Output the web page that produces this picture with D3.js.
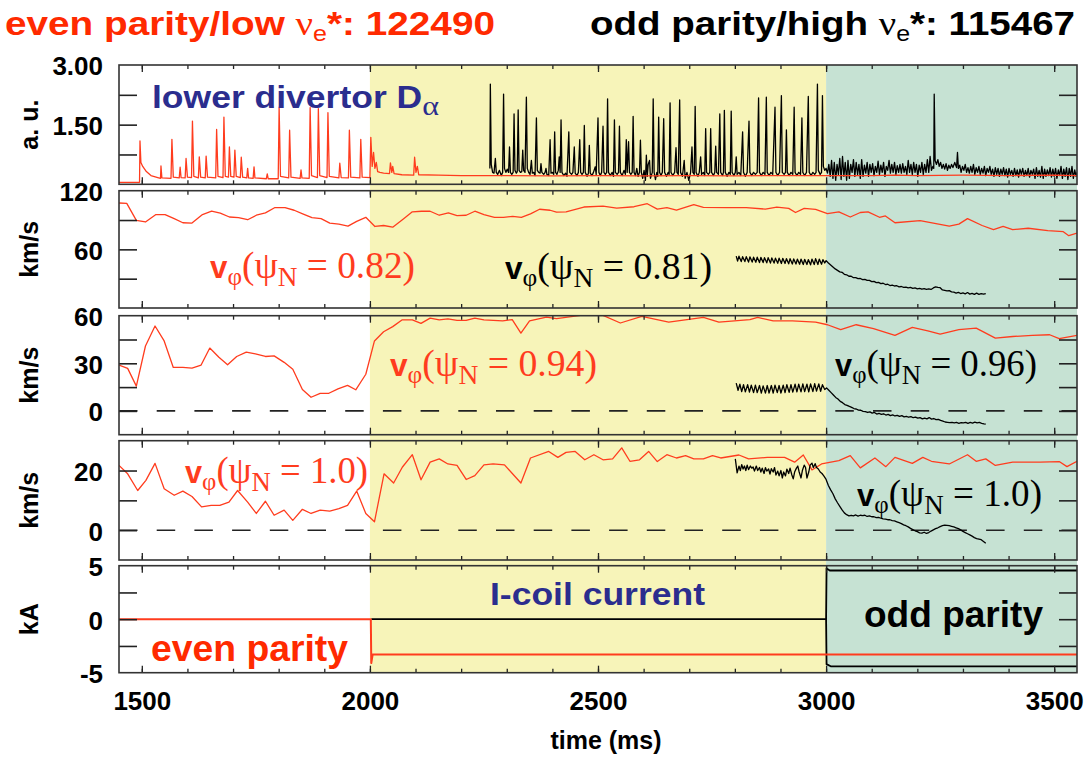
<!DOCTYPE html>
<html><head><meta charset="utf-8">
<script src="https://cdn.jsdelivr.net/npm/d3@7"></script>
<style>body{margin:0;background:#fff}svg{display:block}</style>
</head><body>
<svg id="c" width="1086" height="761"></svg>
<script>
// ---------------- data ----------------
const timeDomain = [1450, 3550];
const xTickMajor = [1500, 2000, 2500, 3000, 3500];
const xTickMinor = [1500,1600,1700,1800,1900,2000,2100,2200,2300,2400,2500,2600,2700,2800,2900,3000,3100,3200,3300,3400,3500];
const evenStart = 2000, oddStart = 3000;

// panel 1: lower divertor D-alpha (a.u.)
const dalphaDomain = [0, 3];
const dalphaTicks = [0.75, 1.5, 2.25];
const dalphaLabels = [[3, "3.00"], [1.5, "1.50"]];
const dalphaEven = [[1450,0.05],[1495,0.05],[1496,1.09],[1498,0.55],[1502,0.45],[1510,0.32],[1520,0.22],[1535,0.17],
[1541,0.15],[1542,0.46],[1544,0.16],[1564,0.15],[1566,1.13],[1569,0.18],[1582,0.16],[1584,0.43],[1586,0.17],
[1595,0.16],[1597,0.65],[1600,0.18],[1609,0.17],[1611,1.59],[1614,0.2],[1624,0.16],[1626,0.69],[1629,0.18],
[1639,0.16],[1641,0.71],[1644,0.18],[1662,0.16],[1664,1.38],[1667,0.2],[1678,0.17],[1680,1.69],[1683,0.2],
[1690,0.18],[1692,0.94],[1695,0.2],[1702,0.18],[1704,0.86],[1707,0.2],[1716,0.17],[1718,0.68],[1721,0.18],
[1730,0.16],[1732,0.4],[1734,0.16],[1744,0.15],[1746,0.44],[1748,0.16],[1773,0.14],[1775,0.26],[1777,0.14],
[1799,0.14],[1801,1.94],[1804,0.2],[1822,0.16],[1824,1.36],[1827,0.18],[1847,0.15],[1849,0.36],[1851,0.16],
[1867,0.15],[1869,1.93],[1872,0.22],[1885,0.17],[1887,1.9],[1890,0.22],[1906,0.17],[1908,1.8],[1911,0.2],
[1932,0.16],[1934,0.53],[1937,0.17],[1953,0.16],[1955,1.36],[1958,0.18],[1978,0.16],[1980,1.13],[1983,0.18],
[2000,0.17],[2002,1.18],[2005,0.45],[2008,0.8],[2011,0.4],[2014,0.55],[2017,0.32],[2022,0.3],[2030,0.28],
[2043,0.27],[2045,0.54],[2048,0.3],[2050,0.45],[2053,0.27],[2070,0.24],[2096,0.23],[2098,0.68],[2101,0.3],
[2104,0.45],[2107,0.24],[2150,0.23],[2200,0.22],[2300,0.22],[2400,0.21],[2500,0.22],[2600,0.21],[2700,0.22],
[2800,0.21],[2900,0.22],[3000,0.22],[3100,0.22],[3150,0.23],[3200,0.22],[3300,0.23],[3400,0.22],[3500,0.23],[3550,0.22]];
const dalphaOdd = [[2263,0.4],[2264,2.52],[2266,0.5],[2269,0.3],[2272,0.28],[2275,0.65],[2277,0.3],[2280,0.25],[2284,0.35],[2288,0.22],
[2291,0.3],[2293,2.27],[2295,0.4],[2298,0.3],[2301,0.38],[2304,0.3],[2306,0.94],[2308,0.3],[2311,0.25],
[2314,0.3],[2316,1.77],[2318,0.35],[2321,0.28],[2323,0.32],[2325,1.87],[2327,0.35],[2330,0.3],
[2333,0.32],[2335,0.86],[2337,0.35],[2340,0.3],[2343,2.19],[2345,0.4],[2348,0.3],[2351,0.25],
[2354,0.6],[2356,0.28],[2359,0.3],[2362,0.22],[2365,1.67],[2367,0.35],[2370,0.3],[2373,0.28],
[2375,0.52],[2377,0.3],[2381,0.25],[2384,0.3],[2386,0.4],[2388,0.25],[2392,0.22],
[2395,1.12],[2397,0.28],[2400,0.3],[2403,0.25],[2405,1.32],[2407,0.3],[2410,0.25],[2413,0.35],[2415,0.69],[2417,0.3],[2419,1.62],[2421,0.3],[2425,0.22],[2429,0.28],[2432,0.2],
[2436,1.32],[2438,0.3],[2442,0.25],[2445,0.3],[2448,0.94],[2450,0.28],[2454,0.22],[2457,0.3],[2460,1.12],[2462,0.3],[2465,0.25],[2468,0.3],[2470,1.48],[2472,0.3],[2476,0.2],[2479,0.28],[2481,0.98],[2483,0.28],[2487,0.22],[2490,0.3],[2494,0.44],[2496,0.25],[2500,1.67],[2502,0.3],[2505,0.22],[2508,0.3],[2511,1.46],[2513,0.3],[2516,0.25],[2519,0.3],[2521,2.15],[2523,0.3],[2527,0.22],[2531,0.3],[2534,0.2],[2536,1.62],[2538,0.3],[2542,0.25],[2545,0.3],[2547,1.46],[2549,0.3],[2553,0.22],[2557,0.35],[2560,0.25],[2562,1.12],[2564,0.3],[2567,1.07],[2569,0.3],[2572,0.25],[2575,0.3],[2577,1.71],[2579,0.3],[2582,0.22],[2585,0.4],[2588,0.2],[2591,0.3],[2593,1.11],[2595,0.3],[2598,0.15],[2601,0.35],[2604,0.1],[2606,0.73],[2608,0.2],[2610,0.5],[2613,0.6],[2615,0.15],[2619,0.3],[2621,2.15],[2623,0.3],[2626,0.12],[2629,0.3],[2631,0.2],[2633,1.69],[2635,0.3],[2638,0.22],[2641,0.3],[2644,1.65],[2646,0.3],[2650,0.2],[2654,0.3],[2656,0.25],[2658,2.05],[2660,0.3],[2664,0.22],[2668,0.3],[2671,0.92],[2673,0.3],[2676,0.25],[2679,2.12],[2681,0.3],[2685,0.2],[2689,0.6],[2691,0.15],[2695,0.3],[2699,0.1],[2703,0.3],[2706,0.94],[2708,0.3],[2711,0.25],[2713,1.96],[2715,0.3],[2719,0.2],[2722,0.3],[2725,0.69],[2727,0.25],[2731,0.3],[2734,0.22],[2736,1.4],[2738,0.3],[2742,0.25],[2745,0.3],[2747,1.4],[2749,0.3],[2753,0.22],[2756,0.3],[2758,0.96],[2760,0.3],[2764,0.25],[2767,1.77],[2769,0.3],[2773,0.22],[2775,0.3],[2777,1.86],[2779,0.3],[2783,0.2],[2787,0.3],[2790,0.25],[2792,1.84],[2794,0.3],[2798,0.22],[2801,0.3],[2803,0.69],[2805,0.25],[2809,0.3],[2813,0.22],[2817,1.32],[2819,0.3],[2823,0.2],[2827,0.3],[2831,1.59],[2833,0.3],[2837,0.22],[2841,0.3],[2845,0.25],[2849,0.3],[2852,2.17],[2854,0.3],[2858,0.22],[2862,0.3],[2866,0.25],[2869,2.19],[2871,0.3],[2875,0.22],[2879,0.3],[2883,0.25],[2888,1.94],[2890,0.3],[2894,0.22],[2898,0.3],[2902,2.23],[2904,0.3],[2908,0.25],[2911,0.3],[2913,1.37],[2915,0.3],[2919,0.22],[2923,0.3],[2927,0.25],[2930,1.94],[2932,0.3],[2936,0.22],[2940,0.3],[2944,0.25],[2947,1.67],[2949,0.3],[2953,0.22],[2957,0.3],[2961,2.21],[2963,0.3],[2967,0.22],[2971,0.3],[2975,0.25],[2978,0.3],[2981,2.52],[2983,0.35],[2987,0.25],[2990,0.3],[2992,2.23],[2994,0.45],[2997,0.35],
[3000,0.4],[3003,0.28],[3006,0.5],[3009,0.2],[3012,0.6],[3015,0.15],[3018,0.55],[3021,0.1],[3024,0.5],[3027,0.25],[3030,0.65],[3033,0.12],[3036,0.7],[3039,0.2],[3042,0.55],[3045,0.1],[3048,0.6],[3051,0.15],[3054,0.5],[3057,0.3],[3060,0.62],[3063,0.2],[3066,0.55],[3069,0.25],[3072,0.5],[3075,0.15],[3078,0.62],[3081,0.2],[3084,0.48],[3087,0.28],[3090,0.55],[3093,0.2],[3096,0.5],[3099,0.3],[3102,0.52],[3105,0.22],[3108,0.45],[3111,0.3],[3114,0.58],[3117,0.25],[3120,0.48],[3123,0.3],[3126,0.55],[3129,0.2],[3132,0.45],[3135,0.35],[3138,0.6],[3141,0.28],[3144,0.5],[3147,0.3],[3150,0.55],[3153,0.25],[3156,0.47],[3159,0.3],[3162,0.5],[3165,0.28],[3168,0.52],[3171,0.3],[3174,0.45],[3177,0.25],[3180,0.6],[3183,0.3],[3186,0.5],[3189,0.25],[3192,0.55],[3195,0.3],[3198,0.5],[3201,0.2],[3204,0.48],[3207,0.3],[3210,0.55],[3213,0.25],[3216,0.5],[3219,0.3],[3222,0.62],[3225,0.3],[3228,0.7],[3231,0.35],[3234,0.45],[3236,0.4],[3237,2.27],[3239,0.6],[3242,0.5],[3245,0.62],[3248,0.45],[3251,0.55],[3254,0.4],[3257,0.5],[3260,0.38],[3263,0.52],[3266,0.35],[3269,0.48],[3272,0.4],[3275,0.5],[3278,0.42],[3282,0.55],[3286,0.42],[3288,0.8],[3290,0.4],[3293,0.48],[3296,0.3],[3299,0.45],[3302,0.35],[3305,0.5],[3308,0.3],[3311,0.42],[3314,0.28],[3317,0.45],[3320,0.3],[3323,0.5],[3326,0.25],[3329,0.42],[3332,0.3],[3335,0.45],[3338,0.25],[3341,0.4],[3344,0.28],[3347,0.45],[3350,0.22],[3353,0.4],[3356,0.3],[3359,0.45],[3362,0.25],[3365,0.38],[3368,0.2],[3371,0.42],[3374,0.25],[3377,0.4],[3380,0.2],[3383,0.38],[3386,0.25],[3389,0.42],[3392,0.22],[3395,0.38],[3398,0.18],[3401,0.4],[3404,0.25],[3407,0.35],[3410,0.2],[3413,0.4],[3416,0.22],[3419,0.36],[3422,0.18],[3425,0.38],[3428,0.25],[3431,0.4],[3434,0.2],[3437,0.35],[3440,0.22],[3443,0.4],[3446,0.18],[3449,0.35],[3452,0.25],[3455,0.38],[3458,0.15],[3461,0.42],[3464,0.2],[3467,0.35],[3470,0.18],[3473,0.45],[3476,0.15],[3479,0.38],[3482,0.2],[3485,0.36],[3488,0.22],[3491,0.42],[3494,0.18],[3497,0.38],[3500,0.2],[3503,0.4],[3506,0.15],[3509,0.36],[3512,0.22],[3515,0.45],[3518,0.15],[3521,0.38],[3524,0.2],[3527,0.42],[3530,0.12],[3533,0.4],[3536,0.2],[3539,0.45],[3542,0.15],[3545,0.36],[3548,0.2],[3550,0.3]];

// panel 2: v_phi near psi_N 0.82 / 0.81 (km/s)
const v2Domain = [0, 120];
const v2Ticks = [30, 60, 90];
const v2Labels = [[120, "120"], [60, "60"]];
const vphiEven082 = [[1450,107.4],[1467,107],[1488,89.7],[1508,88],[1531,95.6],[1551,95.6],[1571,91.4],[1590,87.2],[1610,86.9],[1633,95.6],[1653,99],[1672,97],[1692,93.1],[1712,92.4],[1732,90.3],[1751,94.9],[1771,97.3],[1791,102.6],[1814,102.6],[1834,100],[1854,96],[1873,92.4],[1893,91.4],[1912,86.9],[1932,85.8],[1952,83.7],[1971,88.6],[1991,92.8],[2011,83.4],[2030,84.4],[2050,82.7],[2074,91.4],[2093,98.4],[2113,99],[2132,99],[2152,94.9],[2172,97.3],[2191,94.5],[2211,94.9],[2230,99],[2250,95.6],[2273,92.8],[2293,92.8],[2313,93.8],[2332,92.8],[2352,96.3],[2372,101],[2395,100],[2409,98],[2430,98.4],[2469,103.3],[2511,104.3],[2541,102.2],[2579,103.6],[2608,106.7],[2630,101.2],[2651,102.6],[2672,100.1],[2710,105.7],[2731,102.9],[2782,102.6],[2825,102.6],[2867,101.2],[2892,103.3],[2918,101.9],[2933,97.7],[2952,101.9],[2977,100.8],[3003,96.6],[3028,98.4],[3053,93.1],[3075,97.7],[3092,98.4],[3117,92.8],[3130,94.2],[3151,87.2],[3206,89.3],[3270,83.7],[3291,85.8],[3310,91.4],[3342,84.4],[3367,80.2],[3388,83.4],[3409,80.2],[3443,81.6],[3486,79.2],[3520,78.1],[3532,74],[3550,76.7]];
const vphiOdd081 = [[2803,53],[2806,48],[2809,53],[2814,47.5],[2817,52.5],[2822,47.5],[2825,52.5],[2830,47],[2833,52.3],[2838,47],[2841,52],[2846,46.8],[2849,52],[2854,46.5],[2857,51.8],[2862,46.5],[2865,51.5],[2870,46.2],[2873,51.5],[2878,46],[2881,51.2],[2886,46],[2889,51],[2894,45.8],[2897,51],[2902,45.5],[2905,50.8],[2910,45.5],[2913,50.5],[2918,45.2],[2921,50.5],[2926,45],[2929,50.2],[2934,45],[2937,50],[2942,44.8],[2945,50],[2950,44.5],[2953,49.8],[2958,44.5],[2961,49.5],[2966,44.2],[2969,50],[2974,44.5],[2977,50.5],[2982,44.5],[2985,50],[2990,44.8],[2993,49.5],[2997,46],[3000,48.5],[3005,46],[3010,44],[3015,42],[3020,40],[3025,38.5],[3030,37],[3035,36.5],[3040,34.5],[3045,34],[3050,32.5],[3055,32.5],[3060,31],[3065,31],[3070,30],[3075,30.2],[3080,29],[3085,29.2],[3090,28.2],[3095,28.3],[3100,27],[3105,27.3],[3110,26],[3115,26.2],[3120,25],[3125,25.3],[3130,24],[3135,24.3],[3140,23],[3145,23.4],[3150,22.5],[3155,22.8],[3160,21.6],[3165,22],[3170,21.2],[3175,21.4],[3180,20.5],[3185,21],[3190,20],[3195,20.5],[3200,19.5],[3205,20],[3210,19.2],[3215,19.8],[3220,19],[3225,19.5],[3230,19],[3235,20.5],[3240,21.6],[3245,21],[3250,20.8],[3255,18.5],[3260,18],[3265,17.5],[3270,17.8],[3275,16.5],[3280,16.2],[3285,15.3],[3290,16],[3295,14.8],[3300,15.5],[3305,14.5],[3310,15.8],[3315,14.2],[3320,15],[3325,14],[3330,15.2],[3335,14],[3340,14.8],[3345,14.2],[3350,14.8]];

// panel 3: v_phi near psi_N 0.94 / 0.96 (km/s)
const v3Domain = [-15, 60];
const v3Ticks = [0, 15, 30, 45];
const v3Labels = [[60, "60"], [30, "30"], [0, "0"]];
const vphiEven094 = [[1450,28.9],[1469,26.8],[1488,15.6],[1508,40.9],[1529,53.5],[1549,44.1],[1569,27.4],[1590,27.4],[1610,27],[1630,28.9],[1649,39.6],[1669,33.8],[1688,29.1],[1708,34.3],[1729,37],[1749,36],[1771,34.3],[1790,34.7],[1812,30.6],[1831,26.3],[1852,13.5],[1871,8.6],[1891,11.1],[1910,11.1],[1930,13.9],[1951,16.1],[1969,13.3],[1991,23.1],[2010,44.1],[2030,49.9],[2050,53.1],[2071,57.4],[2093,57.4],[2112,55.2],[2132,58.5],[2152,57.4],[2171,58],[2191,57],[2211,57],[2230,58.5],[2250,57.4],[2291,56.8],[2312,57.5],[2331,49],[2350,56.8],[2387,59.1],[2409,58.1],[2470,60.5],[2490,61],[2511,60.2],[2549,55.4],[2596,59.6],[2655,56],[2731,58.9],[2765,56],[2833,57.5],[2850,58.9],[2884,56.8],[2926,56.8],[2977,56],[3003,54.3],[3032,51.2],[3066,54.3],[3104,51.8],[3151,47.6],[3189,52.6],[3223,50.5],[3250,48.4],[3291,51.2],[3329,52.2],[3371,45.9],[3409,46.9],[3452,47.6],[3490,48],[3511,45.5],[3550,47.6]];
const vphiOdd096 = [[2803,17.5],[2807,13],[2811,16.8],[2815,12.2],[2819,16.5],[2823,12],[2828,16.5],[2832,11.8],[2836,16.2],[2841,11.5],[2845,16.3],[2849,11.5],[2854,16],[2858,11.2],[2862,15.8],[2867,11.2],[2871,16],[2875,11.3],[2880,16],[2884,11.2],[2888,16.2],[2893,11.5],[2897,16],[2901,11.3],[2906,16.2],[2910,11.5],[2914,16.5],[2919,11.7],[2923,16.6],[2927,11.8],[2932,16.8],[2936,12],[2940,16.8],[2945,12],[2949,17],[2953,12.2],[2958,16.8],[2962,12],[2966,17],[2971,12.2],[2975,17.2],[2979,12.5],[2984,17],[2988,12.4],[2992,16.5],[2997,13.5],[3001,14.5],[3006,13],[3011,11.5],[3016,10],[3021,8.5],[3026,7.5],[3031,6],[3036,5.2],[3041,4],[3046,3.5],[3051,2.8],[3056,2.2],[3061,1.5],[3066,1.2],[3071,0.5],[3076,0.4],[3081,-0.3],[3086,-0.5],[3091,-1],[3096,-0.6],[3101,-1.4],[3106,-1],[3111,-2],[3116,-1.5],[3121,-2.2],[3126,-1.8],[3131,-2.6],[3136,-2.2],[3141,-3],[3146,-2.5],[3151,-3.2],[3156,-2.8],[3161,-3.5],[3166,-3],[3171,-3.8],[3176,-3.4],[3181,-4],[3186,-3.6],[3191,-4.3],[3196,-3.9],[3201,-4.6],[3206,-4.2],[3211,-5],[3216,-4.5],[3221,-5],[3226,-4.2],[3231,-5.2],[3236,-4.8],[3241,-5.5],[3246,-5.3],[3251,-6],[3256,-6.5],[3261,-7],[3266,-7.2],[3271,-7.4],[3276,-7.2],[3281,-7.6],[3286,-7.3],[3291,-7.8],[3296,-7.4],[3301,-7.6],[3306,-7.2],[3311,-7.8],[3316,-7.3],[3321,-7.7],[3326,-7.1],[3331,-7.6],[3336,-7.3],[3341,-7.8],[3346,-8.2],[3350,-8.4]];

// panel 4: v_phi at psi_N 1.0 (km/s)
const v4Domain = [-10, 30];
const v4Ticks = [0, 10, 20];
const v4Labels = [[20, "20"], [0, "0"]];
const vphiEven10 = [[1450,21.7],[1469,18.9],[1491,13.3],[1509,16.7],[1529,22.4],[1549,13.9],[1571,11.7],[1590,13.1],[1610,11.3],[1631,7.8],[1652,8.3],[1671,8.3],[1691,9.4],[1710,13.3],[1732,9.4],[1751,5.6],[1771,9.7],[1790,5],[1812,6.7],[1831,3.3],[1852,7],[1871,5.6],[1891,6.7],[1912,6.4],[1932,7.2],[1951,8.3],[1971,13.1],[1991,5.6],[2010,2.8],[2031,18.9],[2052,15.8],[2071,21.1],[2093,25.3],[2112,16.9],[2132,22.8],[2152,23.9],[2171,22.2],[2191,21.7],[2211,17],[2230,18.3],[2250,21.9],[2270,22.2],[2295,21.9],[2331,15.8],[2352,24.2],[2392,26.4],[2412,24.4],[2430,26.1],[2450,26.4],[2471,23.6],[2491,25.3],[2511,23.6],[2532,23.9],[2552,27.6],[2570,23.1],[2591,23.6],[2611,26.4],[2630,23],[2651,25.3],[2672,24.2],[2692,25],[2710,23.9],[2731,23.9],[2751,25],[2769,24.2],[2809,25.2],[2830,23.9],[2871,24.4],[2909,24.4],[2931,22.8],[2950,25.2],[2969,20.2],[2990,22.2],[3028,23.3],[3053,25],[3075,20.9],[3107,24.2],[3131,21.3],[3151,24.4],[3189,22.4],[3212,24.4],[3231,23.1],[3270,22.2],[3310,25.3],[3329,23.1],[3350,23.9],[3371,21.7],[3409,22.8],[3469,22.8],[3511,23],[3528,21.3],[3550,23.1]];
const vphiOdd10 = [[2801,23.9],[2805,19.2],[2809,21.5],[2812,20],[2815,22],[2818,20.5],[2821,21.5],[2824,20],[2827,21.8],[2830,20.3],[2834,21.5],[2837,20.8],[2840,21.2],[2843,19.8],[2847,21.5],[2850,20],[2854,21],[2857,19.5],[2860,20.8],[2864,19],[2867,21],[2870,19.8],[2874,20.5],[2877,18.8],[2880,20.6],[2884,19.5],[2887,21],[2890,18.5],[2894,19.8],[2897,18.2],[2901,20],[2904,17.5],[2907,19.5],[2911,18.2],[2914,20.5],[2918,19],[2921,20.8],[2925,18.5],[2928,17.2],[2931,19.5],[2935,20.8],[2938,21.5],[2941,19.5],[2945,17.5],[2948,20],[2952,21.8],[2955,21],[2958,17.5],[2962,19.5],[2965,21.8],[2969,22.5],[2972,21],[2976,22.3],[2979,21],[2983,20.5],[2987,19.5],[2991,19],[2995,18.2],[3000,17],[3005,15],[3010,13.5],[3015,12.2],[3020,10.5],[3025,9.2],[3030,8],[3035,6.8],[3040,5.8],[3045,5.2],[3050,4.8],[3055,5],[3060,4.8],[3065,5.1],[3070,4.7],[3075,5],[3080,4.9],[3085,5],[3090,4.6],[3095,4.8],[3100,4.5],[3105,4.5],[3110,4.2],[3115,4.3],[3120,4],[3125,3.8],[3130,3.7],[3135,3.5],[3140,3.5],[3145,3.2],[3150,3.1],[3155,2.8],[3160,2.5],[3165,2.2],[3170,1.8],[3175,1.5],[3180,1.1],[3185,0.6],[3190,0.2],[3195,-0.2],[3200,-0.5],[3205,-0.9],[3210,-1],[3215,-0.7],[3220,-1.1],[3225,-0.8],[3230,-0.3],[3235,0.1],[3240,0.5],[3245,0.8],[3250,1.2],[3255,1.5],[3260,1.7],[3265,1.6],[3270,1.5],[3275,1.3],[3280,1.1],[3285,0.8],[3290,0.5],[3295,0.1],[3300,-0.4],[3305,-0.8],[3310,-1.2],[3315,-1.6],[3320,-2],[3325,-2.5],[3330,-2.8],[3335,-3],[3340,-3.2],[3345,-3.8],[3350,-4.4]];

// panel 5: I-coil current (kA)
const icDomain = [-5, 5];
const icTicks = [-2.5, 0, 2.5];
const icLabels = [[5, "5"], [0, "0"], [-5, "-5"]];
const icoilEven = [[1450,0],[2002,0],[2003,-4.1],[2006,-3.3],[2500,-3.3],[3000,-3.3],[3550,-3.3]];
const icoilOddUpper = [[2003,0],[3000,0],[3001,4.75],[3008,4.55],[3550,4.55]];
const icoilOddLower = [[3000,0],[3001,-4.2],[3010,-4.4],[3550,-4.4]];

// ---------------- drawing ----------------
const RED = "#ff3c1e", TRED = "#ff2a00", BLUE = "#2b2d8e", YEL = "#f7f4b9", GRN = "#c6e2d3";
const SANS = "Liberation Sans, Arial, sans-serif", SERIF = "Liberation Serif, Times New Roman, serif";
const svg = d3.select("#c");
const L = 119, R = 1077;
const panelBox = [[65, 184.3], [190.7, 308], [315.7, 434.7], [440.7, 560], [565.7, 672.7]];
const x = d3.scaleLinear().domain(timeDomain).range([L, R]);

const panels = [
  {domain: dalphaDomain, ticks: dalphaTicks, labels: dalphaLabels, title: "a. u."},
  {domain: v2Domain, ticks: v2Ticks, labels: v2Labels, title: "km/s"},
  {domain: v3Domain, ticks: v3Ticks, labels: v3Labels, title: "km/s", dashed: true},
  {domain: v4Domain, ticks: v4Ticks, labels: v4Labels, title: "km/s", dashed: true},
  {domain: icDomain, ticks: icTicks, labels: icLabels, title: "kA"}
];
panels.forEach((p, i) => {
  p.y0 = panelBox[i][0]; p.y1 = panelBox[i][1];
  p.y = d3.scaleLinear().domain(p.domain).range([p.y1, p.y0]);
});
const TOP = panels[0].y0, BOT = panels[4].y1;

// phase shading
svg.append("rect").attr("x", x(evenStart)).attr("y", TOP).attr("width", x(oddStart) - x(evenStart)).attr("height", BOT - TOP).attr("fill", YEL);
svg.append("rect").attr("x", x(oddStart)).attr("y", TOP).attr("width", R - x(oddStart)).attr("height", BOT - TOP).attr("fill", GRN);

const defs = svg.append("defs");
panels.forEach((p, i) => {
  defs.append("clipPath").attr("id", "clip" + i).append("rect").attr("x", L).attr("y", p.y0).attr("width", R - L).attr("height", p.y1 - p.y0);
  p.g = svg.append("g");
  p.data = p.g.append("g").attr("clip-path", `url(#clip${i})`);
  if (p.dashed) {
    p.data.append("line").attr("x1", L).attr("x2", R).attr("y1", p.y(0)).attr("y2", p.y(0))
      .attr("stroke", "#222").attr("stroke-width", 1.6).attr("stroke-dasharray", "18.5,19.2");
  }
});

function drawLine(p, data, color, w) {
  const line = d3.line().x(d => x(d[0])).y(d => p.y(d[1]));
  p.data.append("path").datum(data).attr("d", line).attr("fill", "none").attr("stroke", color).attr("stroke-width", w).attr("stroke-linejoin", "round");
}
drawLine(panels[0], dalphaOdd, "#000", 1.3);
drawLine(panels[0], dalphaEven, RED, 1.3);
drawLine(panels[1], vphiEven082, RED, 1.3);
drawLine(panels[1], vphiOdd081, "#000", 1.3);
drawLine(panels[2], vphiEven094, RED, 1.3);
drawLine(panels[2], vphiOdd096, "#000", 1.3);
drawLine(panels[3], vphiEven10, RED, 1.3);
drawLine(panels[3], vphiOdd10, "#000", 1.3);
drawLine(panels[4], icoilOddUpper, "#000", 1.8);
drawLine(panels[4], icoilOddLower, "#000", 1.8);
drawLine(panels[4], icoilEven, RED, 2);

// axes / frames
panels.forEach((p) => {
  const g = p.g;
  const ax = [
    [d3.axisTop(x).tickValues(xTickMinor).tickSize(-4), p.y0],
    [d3.axisBottom(x).tickValues(xTickMinor).tickSize(-4), p.y1],
    [d3.axisTop(x).tickValues(xTickMajor).tickSize(-7), p.y0],
    [d3.axisBottom(x).tickValues(xTickMajor).tickSize(-7), p.y1]
  ];
  ax.forEach(([a, yy]) => {
    const s = g.append("g").attr("transform", `translate(0,${yy})`).call(a.tickFormat(""));
    s.select(".domain").remove();
    s.selectAll("line").attr("stroke", "#222").attr("stroke-width", 1.3);
  });
  [[d3.axisLeft(p.y), L], [d3.axisRight(p.y), R]].forEach(([a, xx]) => {
    const s = g.append("g").attr("transform", `translate(${xx},0)`).call(a.tickValues(p.ticks).tickSize(-18).tickFormat(""));
    s.select(".domain").remove();
    s.selectAll("line").attr("stroke", "#222").attr("stroke-width", 1.6);
  });
  const lab = g.append("g").attr("transform", `translate(${L},0)`)
    .call(d3.axisLeft(p.y).tickValues(p.labels.map(d => d[0])).tickSize(0).tickPadding(16)
      .tickFormat(v => p.labels.find(d => d[0] === v)[1]));
  lab.select(".domain").remove();
  lab.selectAll("text").attr("font-family", SANS).attr("font-weight", "bold").attr("font-size", 26).attr("fill", "#000").attr("dy", "0.38em");
  g.append("rect").attr("x", L).attr("y", p.y0).attr("width", R - L).attr("height", p.y1 - p.y0)
    .attr("fill", "none").attr("stroke", "#333").attr("stroke-width", 1.6);
  g.append("text").attr("transform", `translate(38,${(p.y0 + p.y1) / 2}) rotate(-90)`)
    .attr("text-anchor", "middle").attr("font-family", SANS).attr("font-weight", "bold").attr("font-size", 25).text(p.title);
});

// x tick labels
const xl = svg.append("g").attr("transform", `translate(0,${BOT})`)
  .call(d3.axisBottom(x).tickValues(xTickMajor).tickSize(0).tickPadding(19).tickFormat(d3.format("d")));
xl.select(".domain").remove();
xl.selectAll("text").attr("font-family", SANS).attr("font-weight", "bold").attr("font-size", 26).attr("fill", "#000");
svg.append("text").attr("x", 606).attr("y", 749).attr("text-anchor", "middle").attr("font-family", SANS)
  .attr("font-weight", "bold").attr("font-size", 25).text("time (ms)");

// titles
function title(xp, txt1, num, color, len) {
  const t = svg.append("text").attr("x", xp).attr("y", 35).attr("font-family", SANS).attr("font-weight", "bold")
    .attr("font-size", 34).attr("fill", color);
  t.append("tspan").text(txt1);
  t.append("tspan").attr("font-family", SERIF).attr("font-weight", "normal").text("ν");
  t.append("tspan").attr("font-weight", "normal").attr("font-size", 22).attr("dy", 6).text("e");
  t.append("tspan").attr("dy", -6).text("*: " + num);
  t.attr("textLength", len).attr("lengthAdjust", "spacingAndGlyphs");
}
title(5, "even parity/low ", "122490", TRED, 490);
title(590, "odd parity/high ", "115467", "#000", 485);

// panel annotations
const da = svg.append("text").attr("x", 152).attr("y", 108).attr("font-family", SANS).attr("font-weight", "bold")
  .attr("font-size", 31).attr("fill", BLUE);
da.append("tspan").text("lower divertor D");
da.append("tspan").attr("font-family", SERIF).attr("font-weight", "normal").attr("font-size", 28).attr("dy", 7).text("α");
da.attr("textLength", 287).attr("lengthAdjust", "spacingAndGlyphs");

function vphi(xp, yp, val, color, len) {
  const t = svg.append("text").attr("x", xp).attr("y", yp).attr("font-family", SERIF).attr("font-size", 37).attr("fill", color);
  t.append("tspan").attr("font-family", SANS).attr("font-weight", "bold").attr("font-size", 31).text("v");
  t.append("tspan").attr("font-size", 25).attr("dy", 7).text("φ");
  t.append("tspan").attr("dy", -7).text("(ψ");
  t.append("tspan").attr("font-size", 27).attr("dy", 8).text("N");
  t.append("tspan").attr("dy", -8).text(" = " + val + ")");
  t.attr("textLength", len).attr("lengthAdjust", "spacingAndGlyphs");
}
vphi(210, 278, "0.82", RED, 205);
vphi(505, 279, "0.81", "#000", 207);
vphi(390, 376, "0.94", RED, 207);
vphi(835, 376, "0.96", "#000", 202);
vphi(185, 483, "1.0", RED, 183);
vphi(857, 506, "1.0", "#000", 185);

svg.append("text").attr("x", 490).attr("y", 605).attr("font-family", SANS).attr("font-weight", "bold")
  .attr("font-size", 32).attr("fill", BLUE).attr("textLength", 215).attr("lengthAdjust", "spacingAndGlyphs").text("I-coil current");
svg.append("text").attr("x", 151).attr("y", 661).attr("font-family", SANS).attr("font-weight", "bold")
  .attr("font-size", 36).attr("fill", TRED).attr("textLength", 197).attr("lengthAdjust", "spacingAndGlyphs").text("even parity");
svg.append("text").attr("x", 864).attr("y", 627).attr("font-family", SANS).attr("font-weight", "bold")
  .attr("font-size", 37).attr("fill", "#000").attr("textLength", 179).attr("lengthAdjust", "spacingAndGlyphs").text("odd parity");
</script>
</body></html>
